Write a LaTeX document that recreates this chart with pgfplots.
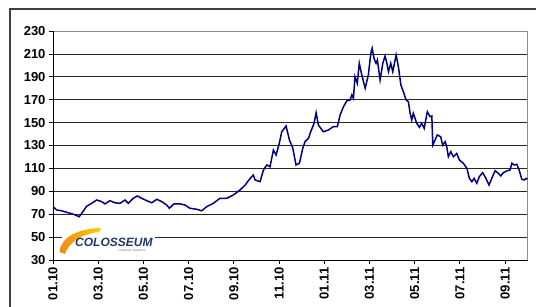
\documentclass[border=0pt]{standalone}
\usepackage{fontspec}
\setmainfont{Liberation Sans}
\usepackage{pgfplots}
\pgfplotsset{compat=1.18}
\definecolor{navyline}{RGB}{0,0,128}
\definecolor{logoblue}{RGB}{30,58,105}
\definecolor{logoorange}{RGB}{236,140,20}
\begin{document}
\begin{tikzpicture}[x=1pt,y=1pt]
\useasboundingbox (0,0) rectangle (536,306);
\begin{axis}[
  at={(53pt,46pt)}, anchor=south west,
  scale only axis, width=474.7pt, height=229pt,
  xmin=0, xmax=21, ymin=30, ymax=230,
  ytick={30,50,...,230},
  xtick={0,2,...,20},
  xticklabels={01.10,03.10,05.10,07.10,09.10,11.10,01.11,03.11,05.11,07.11,09.11},
  ymajorgrids, grid style={black!85, line width=0.8pt},
  axis line style={black!45, line width=0.8pt},
  tick style={black, line width=0.8pt},
  tick align=outside, tick pos=left,
  major tick length=4pt,
  ticklabel style={font=\fontsize{13}{15}\selectfont\bfseries},
  x tick label style={rotate=90, anchor=east},
  /pgf/number format/assume math mode=true,
]
\addplot[navyline, line width=1.5pt] coordinates {
(0.00,76.6)(0.16,73.7)(0.38,73)(0.61,71.6)(0.90,70)(1.16,67.8)(1.27,70.8)(1.49,77)(1.71,79.5)(1.93,82.4)
(2.15,81)(2.30,79)(2.52,81.8)(2.74,80)(2.96,79.5)(3.19,82.4)(3.33,79.5)(3.55,83.9)(3.73,85.9)(3.92,83.9)
(4.15,81.8)(4.37,80)(4.59,83)(4.81,81)(5.03,78)(5.15,75.2)(5.35,79)(5.62,79)(5.84,78)(6.06,75.2)
(6.36,74.3)(6.58,73)(6.80,76.6)(7.09,79.5)(7.39,83.9)(7.69,83.9)(7.98,86.8)(8.27,91.1)(8.50,95.5)(8.72,101.3)
(8.86,104.2)(8.94,99.9)(9.16,98.4)(9.31,108.6)(9.46,113)(9.60,111.5)(9.75,126)(9.87,121.7)(10.01,131.9)(10.12,142)
(10.31,147)(10.46,134.8)(10.61,127.6)(10.75,113)(10.90,114.5)(11.05,127.6)(11.15,133.3)(11.30,136.3)(11.40,142)(11.55,149.4)
(11.64,158.6)(11.74,147.9)(11.96,142)(12.18,143.5)(12.40,146.4)(12.58,146.4)(12.70,156.6)(12.85,163.9)(13.00,169.1)(13.14,169.7)
(13.22,174.1)(13.29,171.2)(13.36,190.1)(13.46,184.3)(13.55,201.8)(13.66,191.6)(13.81,180)(13.95,191.6)(14.06,210.5)(14.12,214.9)
(14.20,206.2)(14.29,201.8)(14.35,204.7)(14.47,187.2)(14.59,201.8)(14.69,208.2)(14.77,201.8)(14.84,194.5)(14.94,201.8)(15.03,194.5)
(15.18,209)(15.28,198.8)(15.39,182.8)(15.50,177)(15.62,169.7)(15.72,168.3)(15.80,158.1)(15.87,152.3)(15.94,158.1)(16.09,149.4)
(16.21,145.9)(16.31,149.4)(16.42,145)(16.56,159.5)(16.68,155.2)(16.76,155.8)(16.80,130.4)(16.90,134.8)(17.00,139.2)(17.15,137.7)
(17.24,130.4)(17.35,133.3)(17.42,128.9)(17.49,120.2)(17.60,124.6)(17.71,120.2)(17.86,123.1)(17.98,117.3)(18.15,114.5)(18.31,110.1)
(18.42,101.3)(18.53,98.4)(18.63,101.3)(18.75,97)(18.86,102.8)(19.01,106.3)(19.15,101.3)(19.29,95.5)(19.41,101.3)(19.56,108)
(19.70,105.7)(19.81,103.4)(19.92,106.3)(20.10,108)(20.22,108.6)(20.30,114.5)(20.40,113)(20.52,113.6)(20.63,108)(20.74,100.5)
(20.84,99.9)(20.93,101.3)(20.99,100.5)
};
\draw[black, line width=0.8pt] (rel axis cs:0,1) -- (rel axis cs:0,0) -- (rel axis cs:1,0);
\end{axis}
% outer frame
\draw[black!75, line width=1.5pt] (10,-2) -- (10,297) -- (538,297);
% logo
\fill[white] (62,48) rectangle (155,79);
\shade[left color=logoorange, right color=yellow!60!orange]
  (101,78) .. controls (80,77.5) and (61,70) .. (59.5,54) -- (65,52)
  .. controls (68,62) and (80,72) .. (99,74) -- cycle;
\node[anchor=west, inner sep=0, font=\fontsize{12}{12}\selectfont\bfseries\itshape, text=logoblue] at (75,63.3) {COLOSSEUM};
\node[anchor=center, inner sep=0, font=\fontsize{2.6}{3}\selectfont, text=black!60] at (132,55) {FINANCIAL MARKETS};
\end{tikzpicture}
\end{document}
